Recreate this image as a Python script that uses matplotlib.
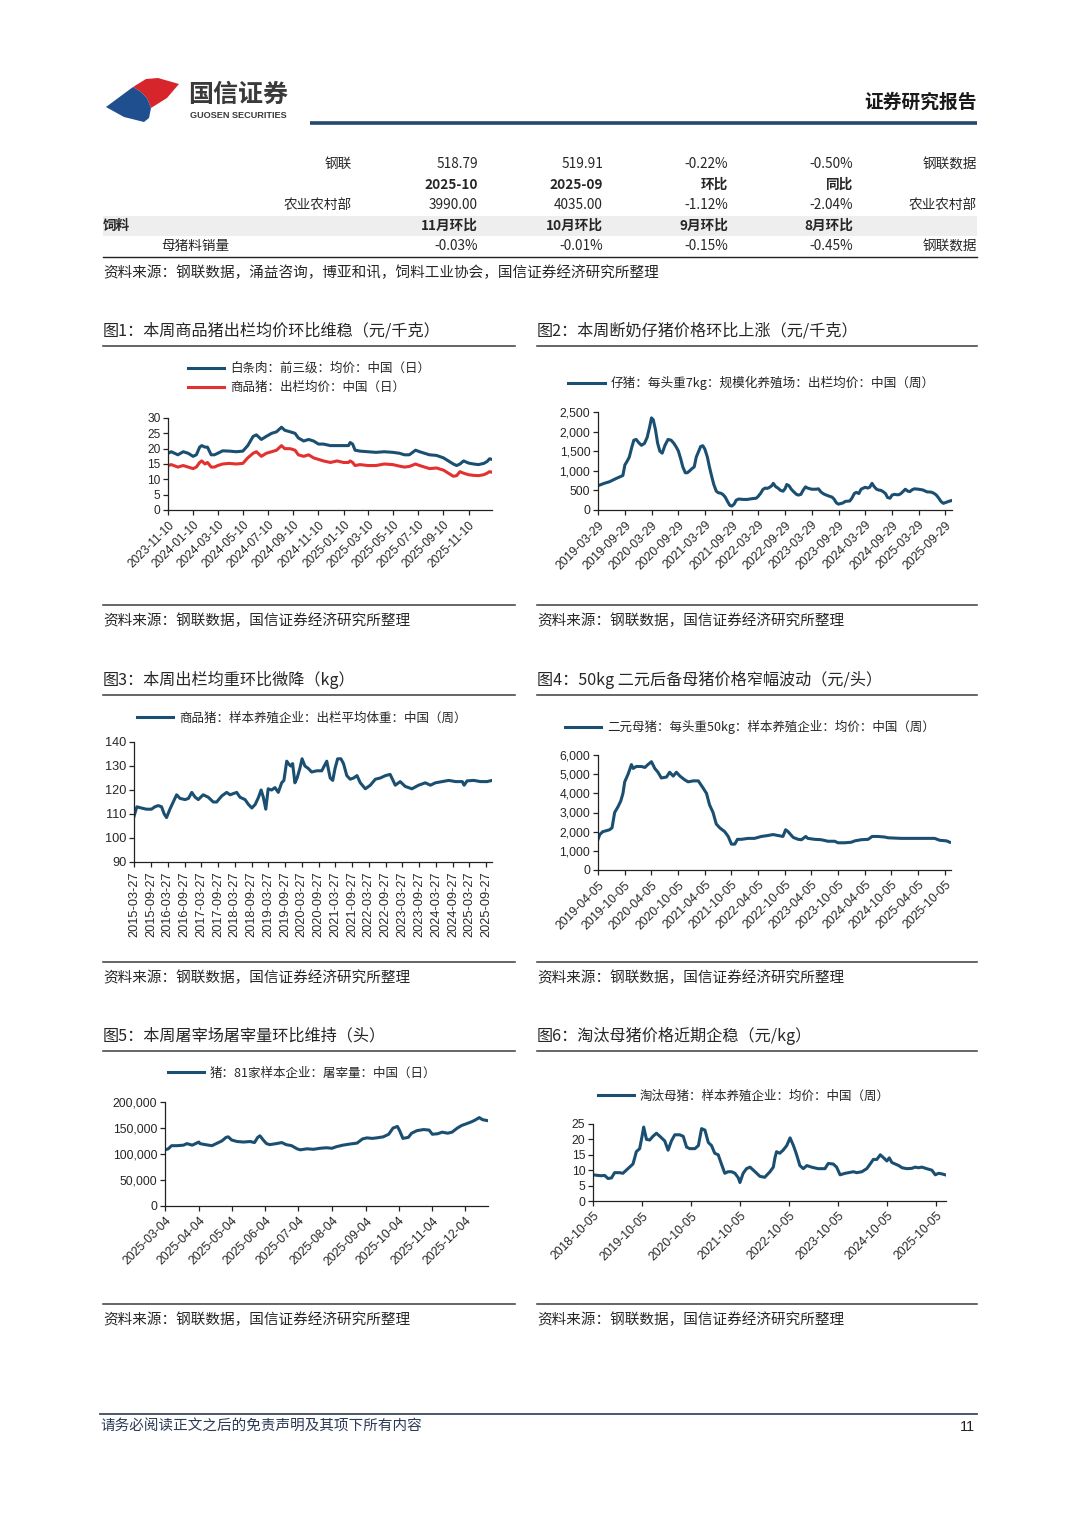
import matplotlib
matplotlib.use('Agg')
import matplotlib.pyplot as plt
from matplotlib.patches import Polygon, Rectangle
import pandas as pd

plt.rcParams['font.family'] = ['Noto Sans CJK SC', 'DejaVu Sans']

# ---------------- DATA ----------------
table_rows = [
    ['', '钢联', '518.79', '519.91', '-0.22%', '-0.50%', '钢联数据'],
    ['', '', '2025-10', '2025-09', '环比', '同比', ''],
    ['', '农业农村部', '3990.00', '4035.00', '-1.12%', '-2.04%', '农业农村部'],
    ['饲料', '', '11月环比', '10月环比', '9月环比', '8月环比', ''],
    ['', '母猪料销量', '-0.03%', '-0.01%', '-0.15%', '-0.45%', '钢联数据'],
]

c1_dates = ['2023-11-10','2023-11-18','2023-12-04','2023-12-17','2023-12-29','2024-01-10','2024-01-18','2024-01-26',
            '2024-01-31','2024-02-08','2024-02-14','2024-02-23','2024-03-02','2024-03-10','2024-03-22','2024-04-07',
            '2024-04-24','2024-05-10','2024-05-22','2024-06-04','2024-06-12','2024-06-24','2024-07-06','2024-07-19',
            '2024-07-31','2024-08-12','2024-08-20','2024-09-02','2024-09-14','2024-09-22','2024-10-05','2024-10-17',
            '2024-10-29','2024-11-10','2024-11-22','2024-12-09','2024-12-25','2025-01-10','2025-01-22','2025-01-26',
            '2025-02-01','2025-02-07','2025-02-19','2025-03-10','2025-03-30','2025-04-19','2025-05-10','2025-05-26',
            '2025-06-07','2025-06-19','2025-07-04','2025-07-14','2025-07-26','2025-08-07','2025-08-24','2025-09-10',
            '2025-09-22','2025-10-04','2025-10-12','2025-10-20','2025-10-29','2025-11-10','2025-11-22','2025-12-04',
            '2025-12-17','2025-12-25','2025-12-31','2026-01-06']
c1_carcass = [18.5,19,18,19,18.5,17.5,18,20.5,21,20.5,
              20.5,18,18,18.5,19.3,19.2,19,19.2,21,24,
              24.5,23,24,25,25.5,27,26,25.5,25,23.5,
              22.5,23,22.5,21.5,21.5,21,21,21,21,22,
              21.5,19.5,19.2,19,18.8,19,18.8,18.5,18,18,
              19.5,19,18.5,18,17.8,17,16,15,14.5,15,
              16,15.3,15,14.8,15.2,15.8,16.7,16.5]
c1_hog = [14.5,14.8,14,14.5,14,13.5,14,15.5,16,15,
          15.5,14,14,14.5,15,15.2,15,15.2,17,18.5,
          19,17.5,18.5,19,19.5,21,20,20,19.5,18,
          17.5,18,17,16.5,16,15.5,16,15.5,15.5,16,
          15.5,14.5,14.8,14.5,14.5,15,14.8,14.3,14,14.2,
          15,14.5,14,13.5,13.7,13,12,11,11.2,12.5,
          12,11.5,11.3,11.2,11.5,12,12.5,12.3]
c1_ticks = ['2023-11-10','2024-01-10','2024-03-10','2024-05-10','2024-07-10','2024-09-10','2024-11-10',
            '2025-01-10','2025-03-10','2025-05-10','2025-07-10','2025-09-10','2025-11-10']
c1_yticks = [0, 5, 10, 15, 20, 25, 30]

c2_dates = ['2019-03-29','2019-05-10','2019-06-15','2019-07-29','2019-08-29','2019-09-15','2019-09-29','2019-10-15',
            '2019-10-29','2019-11-15','2019-11-29','2019-12-15','2020-01-01','2020-01-20','2020-02-10','2020-02-28',
            '2020-03-15','2020-03-29','2020-04-10','2020-04-25','2020-05-10','2020-05-25','2020-06-10','2020-06-29',
            '2020-07-20','2020-08-10','2020-08-29','2020-09-15','2020-09-29','2020-10-15','2020-10-29','2020-11-15',
            '2020-11-29','2020-12-15','2020-12-29','2021-01-15','2021-01-29','2021-02-15','2021-02-28','2021-03-15',
            '2021-03-29','2021-04-15','2021-04-29','2021-05-15','2021-05-29','2021-06-15','2021-06-29','2021-07-15',
            '2021-07-29','2021-08-15','2021-08-29','2021-09-15','2021-09-29','2021-10-15','2021-10-29','2021-11-15',
            '2021-12-15','2022-01-15','2022-02-15','2022-03-15','2022-03-29','2022-04-15','2022-04-29','2022-05-15',
            '2022-05-29','2022-06-15','2022-06-29','2022-07-10','2022-07-25','2022-08-10','2022-08-29','2022-09-15',
            '2022-09-29','2022-10-10','2022-10-25','2022-11-10','2022-11-25','2022-12-15','2022-12-29','2023-01-15',
            '2023-01-29','2023-02-15','2023-03-01','2023-03-29','2023-04-29','2023-05-15','2023-05-29','2023-06-15',
            '2023-07-01','2023-07-29','2023-08-15','2023-08-29','2023-09-15','2023-09-29','2023-10-29','2023-11-15',
            '2023-12-15','2023-12-29','2024-01-15','2024-01-29','2024-02-15','2024-03-01','2024-03-29','2024-04-15',
            '2024-04-29','2024-05-15','2024-05-29','2024-06-15','2024-06-29','2024-07-15','2024-07-29','2024-08-15',
            '2024-08-29','2024-09-15','2024-09-29','2024-10-15','2024-10-29','2024-11-15','2024-11-29','2024-12-15',
            '2024-12-29','2025-01-15','2025-01-29','2025-02-15','2025-03-01','2025-03-29','2025-04-29','2025-05-15',
            '2025-05-29','2025-06-15','2025-06-29','2025-07-15','2025-07-29','2025-08-15','2025-08-29','2025-09-15',
            '2025-09-29','2025-10-15','2025-10-29','2025-11-10']
c2_values = [620,680,720,800,850,880,1150,1250,
             1350,1600,1780,1800,1720,1650,1700,1850,
             2100,2350,2300,2050,1700,1500,1450,1650,
             1800,1780,1700,1600,1500,1300,1100,950,
             950,1000,1050,1100,1350,1500,1620,1640,
             1550,1350,1100,850,650,480,440,430,
             400,330,230,120,100,150,250,280,
             270,270,290,300,350,430,520,560,
             550,580,620,680,600,560,500,480,
             550,650,620,530,470,400,380,400,
             500,590,560,530,530,540,470,420,
             390,350,330,280,180,150,180,220,
             230,300,420,450,420,530,580,560,
             580,680,600,530,510,500,470,420,
             320,300,380,400,390,390,420,480,
             530,480,470,520,540,530,510,480,
             460,460,450,420,380,300,220,170,
             190,210,230,240]
c2_ticks = ['2019-03-29','2019-09-29','2020-03-29','2020-09-29','2021-03-29','2021-09-29','2022-03-29',
            '2022-09-29','2023-03-29','2023-09-29','2024-03-29','2024-09-29','2025-03-29','2025-09-29']
c2_yticks = [0, 500, 1000, 1500, 2000, 2500]
c2_ylabels = ['0', '500', '1,000', '1,500', '2,000', '2,500']

c3_dates = ['2015-03-27','2015-04-27','2015-06-15','2015-08-09','2015-10-03','2015-11-09','2015-12-15','2016-01-21',
            '2016-02-19','2016-03-15','2016-04-21','2016-05-27','2016-07-03','2016-08-09','2016-10-03','2016-11-09',
            '2016-12-15','2017-01-21','2017-02-24','2017-04-18','2017-06-12','2017-08-06','2017-09-12','2017-11-06',
            '2017-12-30','2018-02-05','2018-03-12','2018-04-18','2018-05-24','2018-07-18','2018-08-24','2018-09-30',
            '2018-11-06','2018-12-12','2019-01-09','2019-02-02','2019-03-01','2019-03-27','2019-05-03','2019-06-09',
            '2019-07-15','2019-08-21','2019-09-14','2019-10-15','2019-11-02','2019-11-27','2019-12-18','2020-01-12',
            '2020-02-05','2020-03-06','2020-03-30','2020-04-30','2020-06-05','2020-07-12','2020-09-05','2020-10-30',
            '2020-12-24','2021-01-30','2021-02-27','2021-03-24','2021-04-21','2021-05-27','2021-06-24','2021-07-30',
            '2021-09-05','2021-10-12','2021-11-18','2021-12-24','2022-02-17','2022-04-12','2022-06-06','2022-07-30',
            '2022-09-24','2022-11-14','2023-01-09','2023-03-03','2023-04-27','2023-07-09','2023-09-20','2023-12-02',
            '2024-01-27','2024-03-21','2024-06-02','2024-08-14','2024-10-27','2025-01-08','2025-01-27','2025-03-01',
            '2025-05-12','2025-07-24','2025-10-05','2025-11-27']
c3_values = [109,113,112.5,112,112,113,113.5,113,
             110,108.5,112,115,118,116.5,116,116.5,
             119,117,116,118,117,115,115,117.5,
             119,118,118.5,119,117,116,114,112.5,
             114,117,120,117,112,120.5,120,121,
             119,123,124,132,131,130,131,123,
             125,129,133,130,129,127.5,128,128,
             132,125,124,129,133,133,131,126,
             124.5,125,126,123,120.5,122,124.5,125,
             126,126.5,122,123.5,121.5,120.5,122,123,
             122,123,123.5,124,123.5,123.5,122,123.8,
             124,123.5,123.5,124]
c3_ticks = ['2015-03-27','2015-09-27','2016-03-27','2016-09-27','2017-03-27','2017-09-27','2018-03-27','2018-09-27',
            '2019-03-27','2019-09-27','2020-03-27','2020-09-27','2021-03-27','2021-09-27','2022-03-27','2022-09-27',
            '2023-03-27','2023-09-27','2024-03-27','2024-09-27','2025-03-27','2025-09-27']
c3_yticks = [90, 100, 110, 120, 130, 140]

c4_dates = ['2019-04-05','2019-04-17','2019-05-08','2019-06-01','2019-06-23','2019-07-10','2019-07-28','2019-08-20',
            '2019-09-08','2019-09-23','2019-10-05','2019-10-28','2019-11-20','2019-12-02','2019-12-23','2020-01-28',
            '2020-02-20','2020-03-12','2020-04-05','2020-04-28','2020-05-20','2020-06-12','2020-07-17','2020-08-08',
            '2020-09-01','2020-09-23','2020-10-17','2020-11-20','2020-12-12','2021-01-17','2021-02-20','2021-03-23',
            '2021-04-17','2021-05-08','2021-06-01','2021-06-23','2021-07-17','2021-08-20','2021-09-13','2021-10-05',
            '2021-10-28','2021-11-15','2021-12-12','2022-01-28','2022-03-12','2022-04-28','2022-06-12','2022-07-17',
            '2022-08-20','2022-09-23','2022-10-11','2022-10-28','2022-12-02','2023-01-05','2023-01-28','2023-02-26',
            '2023-03-12','2023-04-28','2023-06-12','2023-07-28','2023-09-12','2023-10-05','2023-11-20','2024-01-05',
            '2024-01-28','2024-03-12','2024-04-28','2024-05-26','2024-07-05','2024-08-20','2024-09-12','2024-12-12',
            '2025-04-05','2025-07-28','2025-09-01','2025-10-17','2025-11-08']
c4_values = [1600,1850,2000,2050,2100,2200,3000,3300,
             3600,4000,4600,5000,5500,5300,5400,5400,
             5350,5500,5650,5300,5100,4800,4850,5100,
             4900,5100,4900,4700,4600,4650,4650,4300,
             4000,3400,3000,2400,2200,2000,1750,1350,
             1350,1600,1600,1650,1650,1750,1800,1850,
             1800,1750,2100,2000,1700,1600,1580,1750,
             1650,1600,1580,1500,1500,1420,1420,1450,
             1520,1580,1600,1750,1750,1720,1680,1650,
             1650,1650,1550,1520,1450]
c4_ticks = ['2019-04-05','2019-10-05','2020-04-05','2020-10-05','2021-04-05','2021-10-05','2022-04-05',
            '2022-10-05','2023-04-05','2023-10-05','2024-04-05','2024-10-05','2025-04-05','2025-10-05']
c4_yticks = [0, 1000, 2000, 3000, 4000, 5000, 6000]
c4_ylabels = ['0', '1,000', '2,000', '3,000', '4,000', '5,000', '6,000']

c5_dates = ['2025-03-04','2025-03-07','2025-03-10','2025-03-15','2025-03-21','2025-03-24','2025-03-29','2025-04-01',
            '2025-04-04','2025-04-05','2025-04-10','2025-04-16','2025-04-20','2025-04-25','2025-04-29','2025-05-01',
            '2025-05-04','2025-05-09','2025-05-15','2025-05-21','2025-05-25','2025-05-28','2025-05-30','2025-06-02',
            '2025-06-05','2025-06-08','2025-06-14','2025-06-19','2025-06-23','2025-06-28','2025-07-03','2025-07-06',
            '2025-07-12','2025-07-18','2025-07-24','2025-07-30','2025-08-04','2025-08-08','2025-08-14','2025-08-20',
            '2025-08-27','2025-09-01','2025-09-05','2025-09-10','2025-09-14','2025-09-20','2025-09-25','2025-09-29',
            '2025-10-03','2025-10-05','2025-10-08','2025-10-13','2025-10-16','2025-10-21','2025-10-27','2025-11-01',
            '2025-11-04','2025-11-09','2025-11-13','2025-11-18','2025-11-22','2025-11-27','2025-12-01','2025-12-05',
            '2025-12-10','2025-12-13','2025-12-17','2025-12-20','2025-12-25']
c5_values = [108000,110000,116000,116000,117000,120000,117000,120000,
             123000,120000,118000,116000,120000,125000,132000,133000,
             127000,124000,123000,124000,122000,132000,135000,127000,
             120000,118000,120000,122000,118000,116000,110000,108000,
             110000,109000,111000,112000,111000,114000,117000,119000,
             121000,129000,131000,130000,131000,133000,138000,150000,
             153000,145000,130000,132000,140000,145000,147000,146000,
             138000,139000,142000,140000,142000,150000,155000,158000,
             162000,165000,170000,166000,164000]
c5_ticks = ['2025-03-04','2025-04-04','2025-05-04','2025-06-04','2025-07-04','2025-08-04','2025-09-04',
            '2025-10-04','2025-11-04','2025-12-04']
c5_yticks = [0, 50000, 100000, 150000, 200000]
c5_ylabels = ['0', '50,000', '100,000', '150,000', '200,000']

c6_dates = ['2018-10-05','2018-11-12','2018-12-06','2018-12-31','2019-01-25','2019-02-20','2019-03-15','2019-04-22',
            '2019-05-16','2019-06-10','2019-07-05','2019-07-30','2019-08-12','2019-08-24','2019-09-18','2019-10-06',
            '2019-10-18','2019-11-08','2019-12-02','2019-12-26','2020-01-21','2020-02-16','2020-03-23','2020-04-17',
            '2020-05-12','2020-06-06','2020-07-13','2020-08-08','2020-09-02','2020-09-26','2020-11-03','2020-11-29',
            '2020-12-23','2021-01-17','2021-02-11','2021-03-07','2021-03-31','2021-04-26','2021-05-20','2021-06-14',
            '2021-07-08','2021-08-04','2021-08-29','2021-09-23','2021-10-05','2021-10-29','2021-11-23','2021-12-19',
            '2022-01-26','2022-03-03','2022-04-08','2022-05-17','2022-06-11','2022-06-23','2022-07-05','2022-07-29',
            '2022-08-23','2022-09-19','2022-10-14','2022-11-08','2022-12-02','2022-12-26','2023-01-21','2023-02-16',
            '2023-03-23','2023-05-11','2023-07-01','2023-07-26','2023-09-01','2023-09-26','2023-10-22','2023-11-29',
            '2024-01-05','2024-01-29','2024-02-24','2024-04-01','2024-05-08','2024-06-02','2024-06-26','2024-07-22',
            '2024-08-17','2024-09-11','2024-10-05','2024-10-23','2024-11-11','2024-12-07','2025-01-02','2025-01-26',
            '2025-03-03','2025-04-09','2025-05-04','2025-05-29','2025-06-23','2025-07-29','2025-09-06','2025-10-01',
            '2025-10-26','2025-11-20','2025-12-14']
c6_values = [8.5,8.3,8.2,8.3,7.3,7.5,9.2,9.2,
             9,10,11,12,14,16,17,21,
             24,20,19.8,21,22,21,19.5,16.5,
             19.5,21.5,21.5,21,17.5,17,17,18,
             23.5,23,19,18,15.5,15,12,9,
             9.5,9.5,9,7.5,6,9,10.5,11,
             9.5,8,7.7,9.5,11,14,16,15.5,
             16.5,18,20.5,18,15,11.5,10.5,11.5,
             11,10.5,10.5,12.2,12,11,8.5,9,
             9.3,9.5,9.2,9.5,10.5,12,13.5,13.5,
             15,14,13,14,12.5,12,11.5,10.8,
             10.5,10.6,11,10.8,11,10.5,10,8.5,
             9,8.8,8.5]
c6_ticks = ['2018-10-05','2019-10-05','2020-10-05','2021-10-05','2022-10-05','2023-10-05','2024-10-05','2025-10-05']
c6_yticks = [0, 5, 10, 15, 20, 25]

# ---------------- FIGURE ----------------
W, H = 1080, 1527
fig = plt.figure(figsize=(W / 100, H / 100), dpi=100)
fig.patch.set_facecolor('white')
bg = fig.add_axes([0, 0, 1, 1], zorder=0)
bg.set_xlim(0, W)
bg.set_ylim(H, 0)
bg.axis('off')

BLUE = '#1b4f72'
RED = '#e2312f'
TXT = '#262626'
NUM_FONT = ['Liberation Sans', 'DejaVu Sans']
SRC_FS = 10.5

# header: logo
bg.add_patch(Polygon([(133, 87), (146, 79), (158, 78), (179, 84), (167, 98), (151, 108), (147, 98), (141, 92)],
                     closed=True, facecolor='#d7252c', edgecolor='none'))
bg.add_patch(Polygon([(106, 107), (133, 87), (141, 92), (147, 98), (151, 108), (149, 118), (144, 122), (124, 117)],
                     closed=True, facecolor='#1f4f8f', edgecolor='none'))
bg.text(188, 95, '国信证券', fontsize=18, fontweight='bold', color='#3a3a3a', va='center', ha='left')
bg.text(190, 115, 'GUOSEN SECURITIES', fontsize=6.6, fontweight='bold', color='#3a3a3a', va='center', ha='left',
        family=NUM_FONT)
bg.text(977, 102, '证券研究报告', fontsize=13.5, fontweight='bold', color='#1a1a1a', va='center', ha='right')
bg.plot([310, 977], [123, 123], color='#24496b', lw=2.6, solid_capstyle='butt')

# table
row_y = [164, 185, 205, 226, 246]
col_x = [103, 352, 478, 603, 728, 853, 977]
bg.add_patch(Rectangle((103, 216), 874, 20, facecolor='#eeeeee', edgecolor='none'))
for r, row in enumerate(table_rows):
    bold = r in (1, 3)
    for c, cell in enumerate(row):
        if not cell:
            continue
        if c == 0:
            bg.text(col_x[0], row_y[r], cell, fontsize=9.8, fontweight='bold' if bold else 'normal',
                    color=TXT, ha='left', va='center')
        elif c == 1 and r == 4:
            bg.text(161, row_y[r], cell, fontsize=9.8, color=TXT, ha='left', va='center')
        else:
            bg.text(col_x[c], row_y[r], cell, fontsize=9.8, fontweight='bold' if bold else 'normal',
                    color=TXT, ha='right', va='center')
bg.plot([103, 977], [257, 257], color='#222222', lw=1.0)
bg.text(103, 273, '资料来源：钢联数据，涌益咨询，博亚和讯，饲料工业协会，国信证券经济研究所整理',
        fontsize=SRC_FS, color=TXT, ha='left', va='center')

# chart frames
panels = [
    (103, 515, 331, 346, 605, 621, '图1：本周商品猪出栏均价环比维稳（元/千克）'),
    (537, 977, 331, 346, 605, 621, '图2：本周断奶仔猪价格环比上涨（元/千克）'),
    (103, 515, 680, 695, 962, 978, '图3：本周出栏均重环比微降（kg）'),
    (537, 977, 680, 695, 962, 978, '图4：50kg 二元后备母猪价格窄幅波动（元/头）'),
    (103, 515, 1036, 1051, 1304, 1320, '图5：本周屠宰场屠宰量环比维持（头）'),
    (537, 977, 1036, 1051, 1304, 1320, '图6：淘汰母猪价格近期企稳（元/kg）'),
]
for x0, x1, ty, tl, sl, sy, title in panels:
    bg.text(x0, ty, title, fontsize=11.6, color=TXT, ha='left', va='center')
    bg.plot([x0, x1], [tl, tl], color='#444444', lw=1.15)
    bg.plot([x0, x1], [sl, sl], color='#444444', lw=1.15)
    bg.text(x0, sy, '资料来源：钢联数据，国信证券经济研究所整理', fontsize=SRC_FS, color=TXT, ha='left', va='center')

# footer
bg.plot([100, 977], [1414, 1414], color='#3d4b5e', lw=1.3)
bg.text(100, 1426, '请务必阅读正文之后的免责声明及其项下所有内容', fontsize=SRC_FS, color='#2b3a55',
        ha='left', va='center', style='italic')
bg.text(975, 1427, '11', fontsize=10.5, color='#222222', ha='right', va='center', family=NUM_FONT)


def px_axes(x0, yt, x1, yb):
    return fig.add_axes([x0 / W, 1 - yb / H, (x1 - x0) / W, (yb - yt) / H], zorder=2)


def style_chart(ax, xlim, ylim, yticks, ylabels, xticks, rot, fs):
    ax.set_xlim(pd.Timestamp(xlim[0]), pd.Timestamp(xlim[1]))
    ax.set_ylim(*ylim)
    for s in ('top', 'right'):
        ax.spines[s].set_visible(False)
    for s in ('left', 'bottom'):
        ax.spines[s].set_color('#222222')
        ax.spines[s].set_linewidth(0.9)
    ax.set_facecolor('none')
    ax.set_yticks(yticks)
    ax.set_yticklabels(ylabels, family=NUM_FONT, fontsize=fs, color=TXT)
    ax.set_xticks(pd.to_datetime(xticks))
    if rot == 90:
        ax.set_xticklabels(xticks, rotation=90, ha='center', va='top', family=NUM_FONT, fontsize=fs, color=TXT)
    else:
        ax.set_xticklabels(xticks, rotation=rot, ha='right', va='top', rotation_mode='anchor',
                           family=NUM_FONT, fontsize=fs, color=TXT)
    ax.tick_params(axis='both', direction='out', length=3.5, width=0.9, color='#222222', pad=2)
    ax.tick_params(axis='x', pad=3)


def add_legend(ax, x, y, fs=9.0):
    ax.legend(loc='center left', bbox_to_anchor=(x / W, 1 - y / H), bbox_transform=fig.transFigure,
              frameon=False, fontsize=fs, handlelength=2.9, handletextpad=0.45, borderpad=0,
              borderaxespad=0, labelspacing=0.5, labelcolor=TXT)


# Chart 1
ax1 = px_axes(168, 418, 492, 510)
ax1.plot(pd.to_datetime(c1_dates), c1_carcass, color=BLUE, lw=2.2, label='白条肉：前三级：均价：中国（日）')
ax1.plot(pd.to_datetime(c1_dates), c1_hog, color=RED, lw=2.2, label='商品猪：出栏均价：中国（日）')
style_chart(ax1, ('2023-11-10', '2026-01-06'), (0, 30), c1_yticks, [str(v) for v in c1_yticks], c1_ticks, 45, 8.6)
add_legend(ax1, 188, 378)

# Chart 2
ax2 = px_axes(598, 412, 952, 510)
ax2.plot(pd.to_datetime(c2_dates), c2_values, color=BLUE, lw=2.2,
         label='仔猪：每头重7kg：规模化养殖场：出栏均价：中国（周）')
style_chart(ax2, ('2019-03-29', '2025-11-13'), (0, 2500), c2_yticks, c2_ylabels, c2_ticks, 45, 8.8)
add_legend(ax2, 568, 383, 9.1)

# Chart 3
ax3 = px_axes(134, 742, 492, 862)
ax3.plot(pd.to_datetime(c3_dates), c3_values, color=BLUE, lw=2.2, label='商品猪：样本养殖企业：出栏平均体重：中国（周）')
style_chart(ax3, ('2015-03-27', '2025-11-27'), (90, 140), c3_yticks, [str(v) for v in c3_yticks], c3_ticks, 90, 9.2)
add_legend(ax3, 137, 718)

# Chart 4
ax4 = px_axes(598, 755, 951, 870)
ax4.plot(pd.to_datetime(c4_dates), c4_values, color=BLUE, lw=2.2,
         label='二元母猪：每头重50kg：样本养殖企业：均价：中国（周）')
style_chart(ax4, ('2019-04-05', '2025-11-17'), (0, 6000), c4_yticks, c4_ylabels, c4_ticks, 45, 8.8)
add_legend(ax4, 565, 727)

# Chart 5
ax5 = px_axes(165, 1102, 488, 1206)
ax5.plot(pd.to_datetime(c5_dates), c5_values, color=BLUE, lw=2.2, label='猪：81家样本企业：屠宰量：中国（日）')
style_chart(ax5, ('2025-03-04', '2025-12-25'), (0, 200000), c5_yticks, c5_ylabels, c5_ticks, 45, 8.8)
add_legend(ax5, 168, 1073)

# Chart 6
ax6 = px_axes(593, 1124, 946, 1201)
ax6.plot(pd.to_datetime(c6_dates), c6_values, color=BLUE, lw=2.2, label='淘汰母猪：样本养殖企业：均价：中国（周）')
style_chart(ax6, ('2018-10-05', '2025-12-20'), (0, 25), c6_yticks, [str(v) for v in c6_yticks], c6_ticks, 45, 8.8)
add_legend(ax6, 598, 1096)

fig.savefig('out.png', dpi=100, facecolor='white')
